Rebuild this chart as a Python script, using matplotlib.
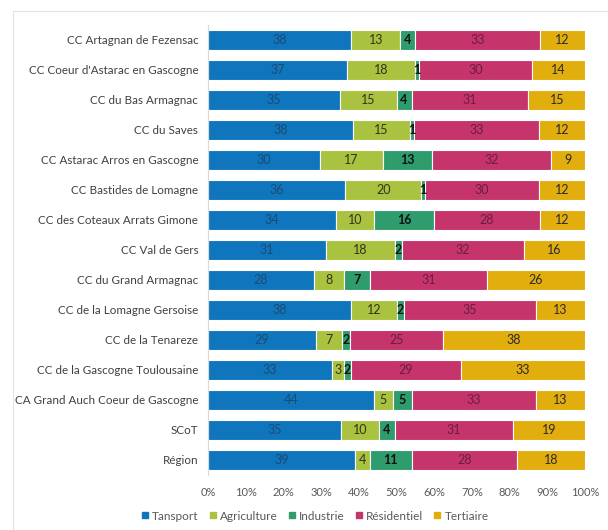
import numpy as np
import matplotlib.pyplot as plt
from matplotlib.lines import Line2D

plt.rcParams['font.family'] = ['Lato', 'DejaVu Sans']

# territories, top to bottom
territoires = [
    "CC Artagnan de Fezensac",
    "CC Coeur d'Astarac en Gascogne",
    "CC du Bas Armagnac",
    "CC du Saves",
    "CC Astarac Arros en Gascogne",
    "CC Bastides de Lomagne",
    "CC des Coteaux Arrats Gimone",
    "CC Val de Gers",
    "CC du Grand Armagnac",
    "CC de la Lomagne Gersoise",
    "CC de la Tenareze",
    "CC de la Gascogne Toulousaine",
    "CA Grand Auch Coeur de Gascogne",
    "SCoT",
    "Région",
]

transport = [38, 37, 35, 38, 30, 36, 34, 31, 28, 38, 29, 33, 44, 35, 39]
agriculture = [13, 18, 15, 15, 17, 20, 10, 18, 8, 12, 7, 3, 5, 10, 4]
industrie = [4, 1, 4, 1, 13, 1, 16, 2, 7, 2, 2, 2, 5, 4, 11]
residentiel = [33, 30, 31, 33, 32, 30, 28, 32, 31, 35, 25, 29, 33, 31, 28]
tertiaire = [12, 14, 15, 12, 9, 12, 12, 16, 26, 13, 38, 33, 13, 19, 18]

secteurs = ['Tansport', 'Agriculture', 'Industrie', 'Résidentiel', 'Tertiaire']
couleurs = ['#0f76bd', '#a9c23f', '#2e9c6c', '#c6346c', '#e2ae0e']
txt_couleurs = ['#1c4a72', '#33331c', '#111111', '#6a1d42', '#2a2a2a']
txt_poids = ['normal', 'normal', 'bold', 'normal', 'normal']

data = np.array([transport, agriculture, industrie, residentiel, tertiaire], dtype=float)
pct = data / data.sum(axis=0) * 100

fig = plt.figure(figsize=(6.08, 5.30), dpi=100)
ax = fig.add_axes([208 / 608, 55 / 530, 377 / 608, 450 / 530])

y = np.arange(len(territoires))
left = np.zeros(len(territoires))
for i in range(len(secteurs)):
    ax.barh(y, pct[i], left=left, height=0.64, color=couleurs[i],
            edgecolor='white', linewidth=0.8, label=secteurs[i])
    for j in range(len(territoires)):
        ax.text(left[j] + pct[i][j] / 2, y[j], str(int(data[i][j])),
                ha='center', va='center', fontsize=9, color=txt_couleurs[i],
                fontweight=txt_poids[i])
    left += pct[i]

ax.set_ylim(len(territoires) - 0.5, -0.5)
ax.set_xlim(0, 100)
ax.set_yticks(y)
ax.set_yticklabels(territoires, fontsize=8.4, color='#404040')
ax.set_xticks(np.arange(0, 101, 10))
ax.set_xticklabels([f'{v}%' for v in range(0, 101, 10)], fontsize=8, color='#595959')
ax.tick_params(length=0)
ax.tick_params(axis='y', pad=7)
ax.tick_params(axis='x', pad=9)
for s in ['top', 'right', 'bottom']:
    ax.spines[s].set_visible(False)
ax.spines['left'].set_color('#d9d9d9')
ax.spines['left'].set_linewidth(0.8)

# light frame around the chart
fig.add_artist(Line2D([13 / 608, 13 / 608], [0, 1 - 11 / 530], color='#e3e3e3', lw=0.8))
fig.add_artist(Line2D([13 / 608, 1], [1 - 11 / 530, 1 - 11 / 530], color='#e3e3e3', lw=0.8))

handles = [plt.Line2D([], [], marker='s', ls='', color=c, markersize=4) for c in couleurs]
leg = fig.legend(handles, secteurs, loc='center', bbox_to_anchor=(315 / 608, 1 - 516 / 530),
                 ncol=5, frameon=False, fontsize=8.5, handletextpad=0.3, columnspacing=0.9,
                 handlelength=0.6)
for t in leg.get_texts():
    t.set_color('#595959')

fig.savefig('out.png', dpi=100)
